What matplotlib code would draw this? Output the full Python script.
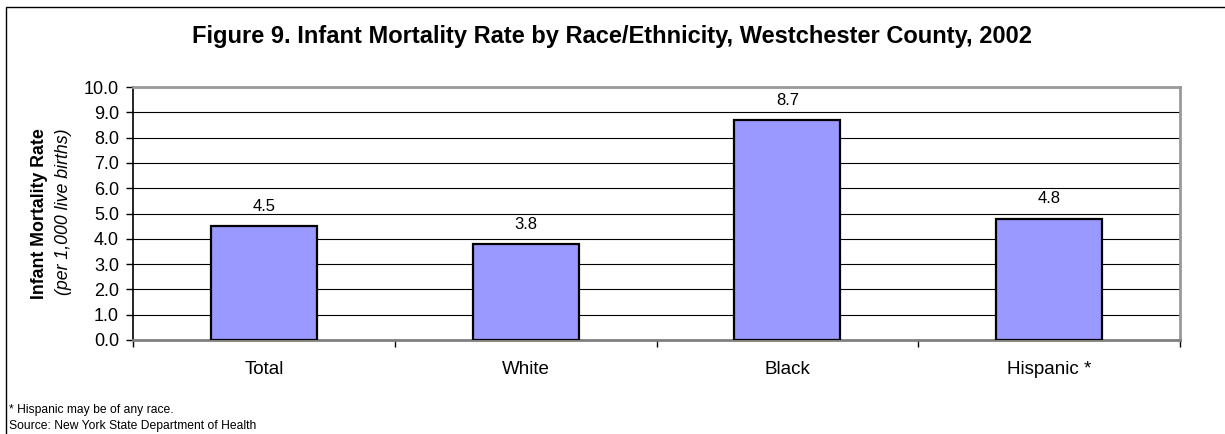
import matplotlib
matplotlib.use("Agg")
import matplotlib.pyplot as plt
from matplotlib.patches import Rectangle

categories = ["Total", "White", "Black", "Hispanic *"]
values = [4.5, 3.8, 8.7, 4.8]
yticks = [0.0, 1.0, 2.0, 3.0, 4.0, 5.0, 6.0, 7.0, 8.0, 9.0, 10.0]

plt.rcParams['font.family'] = ['Liberation Sans', 'DejaVu Sans']

W, H = 1225, 434
fig = plt.figure(figsize=(W / 100, H / 100), dpi=100)

# outer chart border (extends past right and bottom edges)
fig.patches.append(Rectangle((6 / W, -0.1), 1.2, 1 - 7 / H + 0.1,
                             transform=fig.transFigure, fill=False,
                             edgecolor='black', linewidth=1.0))

left, right, top, bottom = 133, 1180, 87, 340
ax = fig.add_axes([left / W, 1 - bottom / H, (right - left) / W, (bottom - top) / H])

x = list(range(len(categories)))
ax.bar(x, values, width=0.405, color='#9999FF', edgecolor='black',
       linewidth=1.6, zorder=3)
for xi, v in zip(x, values):
    ax.text(xi, v + 0.78, f"{v:.1f}", ha='center', va='center', fontsize=12, color='black')

ax.set_xlim(-0.5, len(categories) - 0.5)
ax.set_ylim(0, 10)
ax.set_yticks(yticks)
ax.set_yticklabels([f"{t:.1f}" for t in yticks], fontsize=13)
ax.yaxis.grid(True, color='black', linewidth=0.8, zorder=0)
ax.set_axisbelow(True)

ax.set_xticks(x)
ax.set_xticklabels(categories, fontsize=13.5)
ax.set_xticks([i - 0.5 for i in range(len(categories) + 1)], minor=True)
ax.tick_params(axis='x', which='major', length=0, pad=15)
ax.tick_params(axis='x', which='minor', length=5, width=1, direction='out', color='black')
ax.tick_params(axis='y', length=5, width=1, direction='out', pad=5)

for s in ['top', 'right']:
    ax.spines[s].set_color('#999999')
    ax.spines[s].set_linewidth(2)
ax.spines['bottom'].set_color('#808080')
ax.spines['bottom'].set_linewidth(2)
ax.spines['left'].set_color('black')
ax.spines['left'].set_linewidth(1.2)

fig.text(612 / W, 1 - 37 / H, "Figure 9. Infant Mortality Rate by Race/Ethnicity, Westchester County, 2002",
         ha='center', va='center', fontsize=17, fontweight='bold')

fig.text(40 / W, 1 - 214 / H, "Infant Mortality Rate", rotation=90, ha='center', va='center',
         fontsize=12.8, fontweight='bold')
fig.text(63 / W, 1 - 212 / H, "(per 1,000 live births)", rotation=90, ha='center', va='center',
         fontsize=12.8, fontstyle='italic')

fig.text(9 / W, 1 - 410 / H, "* Hispanic may be of any race.", ha='left', va='center', fontsize=8.7)
fig.text(9 / W, 1 - 426 / H, "Source: New York State Department of Health", ha='left', va='center', fontsize=8.7)

fig.savefig("out.png", dpi=100, facecolor='white')
